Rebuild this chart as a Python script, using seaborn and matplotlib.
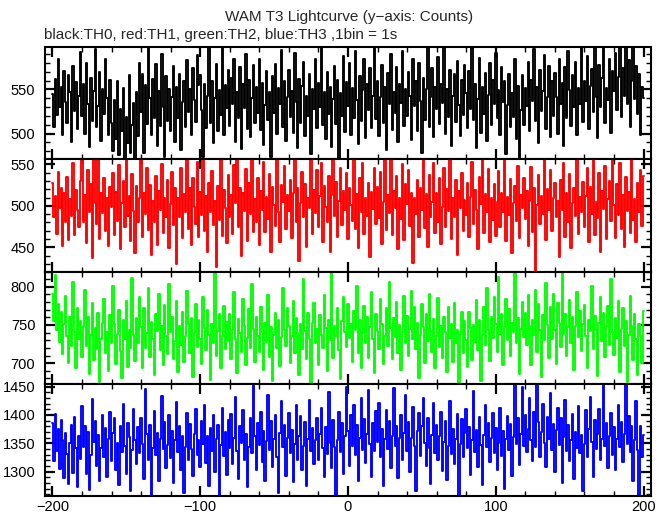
import matplotlib
matplotlib.use("Agg")
import matplotlib.pyplot as plt
from matplotlib.ticker import MultipleLocator
import numpy as np
import pandas as pd
import seaborn as sns

# time bins (1 bin = 1 s)
time_s = list(range(-200, 201))

th0_black = [
    545, 508, 562, 521, 585, 530, 553, 498, 571, 536, 512, 566, 547, 490, 577, 526, 558, 505, 543, 592,
    520, 556, 500, 580, 534, 485, 563, 514, 548, 596, 507, 531, 570, 492, 551, 522, 584, 540, 498, 561,
    512, 480, 538, 494, 560, 476, 528, 503, 552, 471, 519, 489, 566, 478, 510, 535, 470, 547, 497, 580,
    524, 568, 478, 555, 511, 598, 540, 499, 562, 518, 579, 486, 548, 509, 590, 530, 473, 565, 514, 551,
    503, 542, 577, 491, 553, 518, 568, 482, 536, 560, 508, 583, 524, 551, 499, 574, 538, 513, 589, 555,
    566, 527, 474, 556, 506, 543, 600, 512, 559, 489, 540, 579, 503, 549, 521, 597, 498, 555, 529, 572,
    509, 563, 534, 584, 490, 547, 518, 575, 483, 556, 529, 590, 505, 561, 496, 540, 578, 512, 553, 523,
    585, 504, 557, 487, 532, 571, 515, 547, 474, 565, 523, 579, 500, 552, 533, 595, 508, 559, 492, 541,
    572, 519, 548, 501, 591, 536, 484, 562, 512, 554, 581, 497, 543, 520, 567, 477, 551, 528, 584, 506,
    557, 530, 600, 510, 547, 494, 570, 522, 553, 485, 539, 576, 511, 561, 472, 546, 520, 588, 502, 558,
    531, 580, 499, 552, 518, 594, 538, 488, 565, 514, 549, 584, 495, 556, 527, 574, 506, 543, 599, 517,
    560, 497, 541, 578, 512, 553, 482, 569, 533, 590, 504, 547, 523, 575, 491, 556, 535, 593, 509, 550,
    520, 570, 543, 493, 585, 531, 559, 503, 580, 537, 478, 563, 515, 551, 598, 507, 541, 574, 496, 553,
    528, 587, 511, 556, 535, 600, 500, 550, 519, 572, 486, 543, 568, 513, 582, 532, 497, 561, 521, 578,
    546, 506, 571, 528, 597, 515, 556, 484, 539, 586, 501, 553, 522, 569, 492, 544, 580, 510, 561, 533,
    591, 518, 549, 498, 575, 536, 559, 477, 532, 568, 507, 546, 519, 584, 494, 554, 468, 527, 566, 510,
    552, 531, 581, 503, 561, 537, 596, 514, 553, 489, 572, 526, 548, 589, 505, 542, 577, 496, 559, 520,
    569, 542, 500, 585, 534, 557, 486, 575, 518, 594, 549, 509, 566, 530, 581, 498, 552, 533, 600, 513,
    560, 537, 588, 505, 554, 573, 524, 603, 541, 495, 578, 530, 563, 597, 512, 552, 538, 585, 501, 571,
    548, 591, 527, 564, 605, 519, 574, 543, 608, 533, 583, 507, 560, 598, 539, 577, 522, 567, 498, 553,
    540,
]

th1_red = [
    528, 486, 512, 466, 541, 497, 522, 452, 515, 480, 535, 459, 508, 488, 551, 465, 519, 495, 474, 530,
    570, 480, 513, 455, 543, 492, 526, 437, 556, 503, 478, 566, 460, 516, 491, 533, 470, 510, 452, 523,
    499, 539, 465, 517, 482, 549, 448, 503, 530, 474, 562, 488, 512, 458, 538, 494, 443, 524, 480, 509,
    555, 462, 515, 490, 545, 471, 525, 441, 506, 480, 536, 453, 518, 495, 550, 467, 510, 487, 531, 449,
    502, 541, 477, 522, 430, 509, 486, 546, 461, 514, 493, 568, 472, 521, 453, 533, 498, 478, 553, 463,
    517, 489, 565, 470, 512, 444, 528, 492, 542, 477, 506, 426, 524, 483, 560, 464, 519, 497, 455, 537,
    487, 513, 466, 549, 503, 572, 475, 522, 440, 515, 494, 544, 458, 527, 490, 569, 469, 508, 481, 534,
    453, 518, 495, 553, 468, 511, 484, 538, 444, 523, 501, 476, 561, 492, 456, 525, 504, 548, 472, 513,
    494, 531, 461, 515, 575, 480, 522, 434, 503, 541, 486, 526, 450, 509, 497, 556, 466, 519, 491, 543,
    475, 512, 551, 457, 524, 498, 480, 536, 445, 513, 560, 488, 529, 463, 506, 546, 477, 518, 495, 539,
    460, 522, 501, 482, 571, 472, 514, 449, 533, 493, 552, 466, 510, 488, 528, 439, 517, 496, 546, 478,
    523, 485, 541, 454, 505, 557, 471, 513, 491, 574, 465, 518, 497, 536, 448, 510, 484, 550, 459, 526,
    502, 543, 476, 516, 431, 509, 490, 531, 462, 521, 495, 565, 473, 514, 450, 537, 486, 505, 552, 467,
    515, 481, 533, 454, 498, 546, 475, 520, 494, 559, 460, 510, 486, 531, 441, 518, 497, 540, 470, 507,
    489, 528, 463, 511, 553, 478, 519, 495, 448, 535, 502, 563, 467, 514, 492, 544, 457, 509, 483, 526,
    464, 505, 542, 475, 516, 493, 559, 458, 511, 489, 532, 443, 503, 524, 482, 548, 461, 513, 497, 534,
    484, 518, 452, 506, 547, 468, 522, 421, 501, 537, 478, 512, 490, 556, 459, 520, 495, 543, 470, 509,
    527, 486, 506, 438, 531, 495, 551, 463, 515, 480, 538, 449, 503, 521, 488, 562, 466, 511, 493, 529,
    474, 512, 545, 456, 523, 490, 564, 465, 505, 485, 540, 444, 518, 496, 548, 460, 508, 530, 482, 576,
    501, 461, 526, 489, 552, 472, 513, 451, 535, 494, 517, 467, 557, 483, 508, 456, 527, 492, 543, 476,
    536,
]

th2_green = [
    790, 755, 815, 743, 778, 728, 767, 712, 751, 788, 736, 700, 760, 722, 806, 741, 694, 772, 731, 755,
    708, 748, 796, 723, 761, 686, 737, 779, 704, 746, 719, 766, 675, 732, 753, 784, 713, 741, 690, 763,
    727, 801, 751, 699, 738, 770, 716, 681, 757, 731, 781, 695, 744, 720, 812, 737, 703, 759, 726, 787,
    747, 694, 772, 720, 740, 799, 708, 754, 731, 684, 764, 742, 790, 717, 749, 698, 776, 735, 712, 803,
    741, 761, 705, 729, 782, 689, 748, 724, 767, 701, 735, 795, 751, 713, 759, 682, 739, 778, 721, 756,
    732, 699, 786, 746, 717, 769, 737, 678, 751, 727, 822, 709, 742, 764, 694, 736, 775, 718, 754, 729,
    765, 706, 744, 793, 731, 687, 758, 740, 715, 784, 749, 697, 733, 771, 720, 803, 745, 702, 760, 736,
    714, 774, 741, 691, 752, 728, 789, 708, 747, 676, 737, 766, 720, 757, 696, 734, 798, 743, 723, 772,
    748, 700, 735, 781, 713, 759, 739, 684, 751, 719, 810, 742, 706, 766, 732, 669, 753, 779, 726, 745,
    698, 763, 737, 720, 789, 746, 690, 757, 730, 818, 707, 749, 736, 772, 717, 679, 755, 786, 741, 721,
    778, 733, 751, 702, 768, 743, 801, 713, 756, 694, 739, 775, 727, 761, 707, 747, 793, 732, 687, 765,
    742, 718, 784, 751, 699, 736, 772, 722, 806, 746, 706, 759, 734, 780, 713, 750, 691, 741, 788, 727,
    762, 710, 745, 795, 731, 774, 719, 752, 681, 737, 777, 747, 700, 765, 729, 791, 742, 715, 758, 694,
    736, 785, 721, 748, 707, 760, 741, 688, 773, 733, 751, 701, 779, 726, 744, 671, 738, 767, 713, 755,
    730, 695, 767, 746, 704, 750, 728, 783, 717, 756, 676, 737, 774, 724, 799, 743, 703, 761, 733, 787,
    751, 715, 813, 738, 764, 698, 747, 784, 730, 771, 710, 752, 741, 818, 726, 759, 686, 745, 780, 734,
    766, 724, 789, 748, 697, 757, 737, 796, 715, 777, 743, 682, 763, 730, 805, 750, 707, 773, 732, 790,
    744, 699, 779, 753, 721, 820, 738, 765, 709, 747, 783, 727, 760, 691, 749, 793, 734, 768, 716, 751,
    776, 735, 694, 757, 742, 801, 719, 762, 744, 683, 752, 786, 729, 766, 708, 748, 775, 724, 810, 741,
    711, 759, 733, 782, 688, 745, 772, 722, 755, 675, 737, 788, 749, 704, 764, 731, 685, 751, 735, 700,
    768,
]

th3_blue = [
    1385, 1318, 1402, 1337, 1375, 1305, 1391, 1356, 1288, 1369, 1331, 1279, 1350, 1383, 1298, 1397, 1341, 1272, 1362, 1322,
    1415, 1344, 1380, 1296, 1370, 1268, 1330, 1428, 1353, 1389, 1310, 1364, 1283, 1342, 1400, 1325, 1377, 1290, 1358, 1406,
    1318, 1369, 1395, 1302, 1350, 1276, 1381, 1334, 1420, 1346, 1296, 1386, 1361, 1266, 1338, 1410, 1356, 1313, 1379, 1332,
    1394, 1349, 1287, 1445, 1366, 1320, 1383, 1258, 1342, 1407, 1329, 1369, 1284, 1357, 1433, 1340, 1388, 1307, 1347, 1399,
    1324, 1372, 1280, 1355, 1422, 1335, 1381, 1302, 1362, 1262, 1344, 1403, 1321, 1384, 1340, 1292, 1367, 1411, 1330, 1356,
    1309, 1390, 1348, 1418, 1316, 1362, 1275, 1377, 1337, 1399, 1299, 1358, 1383, 1257, 1347, 1413, 1328, 1370, 1294, 1391,
    1342, 1401, 1313, 1360, 1431, 1336, 1287, 1380, 1351, 1408, 1321, 1366, 1272, 1344, 1394, 1332, 1460, 1362, 1303, 1386,
    1347, 1406, 1317, 1371, 1284, 1354, 1436, 1339, 1389, 1308, 1358, 1400, 1326, 1263, 1368, 1424, 1344, 1382, 1293, 1360,
    1403, 1332, 1373, 1281, 1349, 1418, 1321, 1363, 1398, 1302, 1345, 1387, 1274, 1358, 1427, 1337, 1377, 1314, 1355, 1395,
    1320, 1366, 1412, 1341, 1291, 1379, 1331, 1441, 1351, 1306, 1391, 1343, 1258, 1356, 1406, 1335, 1385, 1296, 1362, 1450,
    1371, 1310, 1400, 1346, 1417, 1329, 1382, 1283, 1360, 1430, 1339, 1393, 1316, 1366, 1444, 1348, 1291, 1386, 1336, 1407,
    1353, 1421, 1326, 1375, 1274, 1357, 1409, 1340, 1390, 1306, 1363, 1447, 1345, 1381, 1288, 1360, 1399, 1321, 1368, 1435,
    1337, 1388, 1299, 1359, 1414, 1346, 1266, 1372, 1403, 1327, 1380, 1429, 1350, 1310, 1395, 1342, 1279, 1365, 1421, 1333,
    1382, 1320, 1362, 1406, 1301, 1352, 1389, 1285, 1345, 1425, 1331, 1376, 1313, 1358, 1401, 1257, 1348, 1393, 1325, 1369,
    1410, 1341, 1379, 1294, 1355, 1442, 1335, 1374, 1308, 1396, 1347, 1277, 1364, 1417, 1343, 1385, 1317, 1359, 1404, 1333,
    1377, 1303, 1351, 1412, 1328, 1371, 1269, 1357, 1398, 1339, 1384, 1292, 1361, 1460, 1349, 1394, 1312, 1367, 1449, 1346,
    1399, 1334, 1376, 1430, 1356, 1319, 1406, 1344, 1458, 1388, 1325, 1370, 1419, 1350, 1308, 1396, 1358, 1439, 1338, 1384,
    1299, 1373, 1413, 1347, 1395, 1280, 1361, 1427, 1337, 1383, 1318, 1355, 1402, 1287, 1370, 1342, 1415, 1332, 1364, 1265,
    1348, 1408, 1326, 1375, 1432, 1353, 1290, 1391, 1340, 1366, 1411, 1321, 1358, 1456, 1345, 1386, 1307, 1363, 1404, 1330,
    1378, 1302, 1357, 1417, 1343, 1388, 1317, 1367, 1462, 1349, 1398, 1334, 1381, 1284, 1356, 1424, 1339, 1259, 1380, 1326,
    1365,
]

series = [th0_black, th1_red, th2_green, th3_blue]
colors = ["black", "#ff0000", "#00ff00", "#0000ff"]
ylims = [(471, 598), (421, 556), (673, 820), (1257, 1455)]

sns.set_style("ticks")
plt.rcParams["font.family"] = ["Liberation Sans", "DejaVu Sans"]

fig, axes = plt.subplots(4, 1, sharex=True, figsize=(6.69, 5.15), dpi=100)
fig.subplots_adjust(left=0.0673, right=0.973, bottom=0.0369, top=0.9087, hspace=0)

for ax, vals, col, lim in zip(axes, series, colors, ylims):
    df = pd.DataFrame({"t": time_s, "counts": vals})
    sns.lineplot(data=df, x="t", y="counts", ax=ax, color=col, linewidth=1.35,
                 estimator=None, drawstyle="steps-mid")
    ax.set_xlim(-205, 205)
    ax.set_ylim(*lim)
    ax.set_xlabel("")
    ax.set_ylabel("")
    ax.yaxis.set_major_locator(MultipleLocator(50))
    ax.yaxis.set_minor_locator(MultipleLocator(10))
    ax.xaxis.set_major_locator(MultipleLocator(100))
    ax.xaxis.set_minor_locator(MultipleLocator(20))
    ax.tick_params(which="both", direction="in", top=True, right=True, colors="black")
    ax.tick_params(which="major", length=7, width=1.6, labelsize=10.5)
    ax.tick_params(axis="y", which="major", pad=7)
    ax.tick_params(axis="x", which="major", pad=3)
    ax.tick_params(which="minor", length=3.5, width=1.0)
    for sp in ax.spines.values():
        sp.set_linewidth(1.5)
        sp.set_color("black")

fig.text(0.522, 0.967, "WAM T3 Lightcurve (y\u2212axis: Counts)", ha="center", va="center", fontsize=11)
fig.text(0.066, 0.932, "black:TH0, red:TH1, green:TH2, blue:TH3 ,1bin = 1s", ha="left", va="center", fontsize=11)

fig.savefig("out.png", dpi=100)
